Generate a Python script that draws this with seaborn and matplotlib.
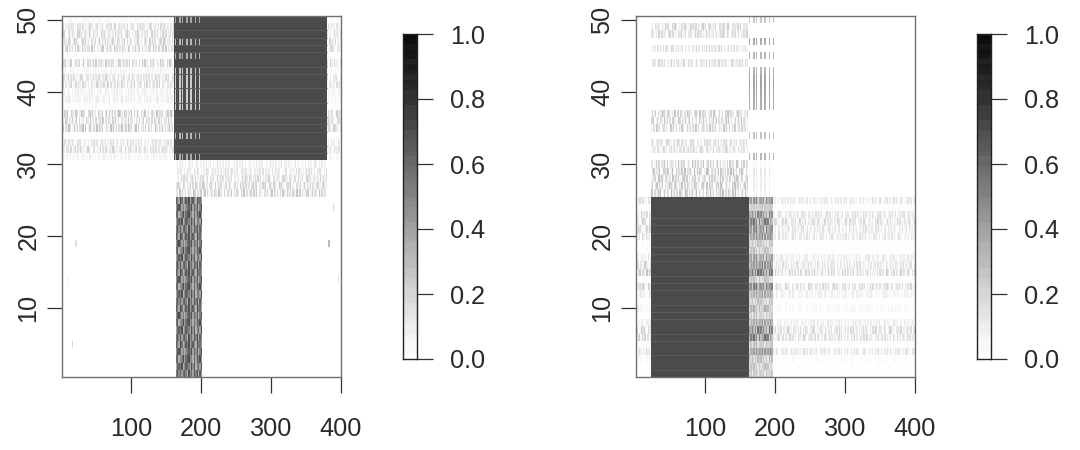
import numpy as np
import matplotlib
matplotlib.use("Agg")
import matplotlib.pyplot as plt
import seaborn as sns
from matplotlib.colors import LinearSegmentedColormap

plt.rcParams["font.family"] = ["Liberation Sans", "DejaVu Sans"]

N_ROWS, N_COLS = 50, 400
X_TICKS = [100, 200, 300, 400]
Y_TICKS = [10, 20, 30, 40, 50]
BAR_TICKS = [0.0, 0.2, 0.4, 0.6, 0.8, 1.0]

# membership intensity per row, listed from row 31 up to row 50
left_upper_levels = [.08, .22, .18, .01, .30, .26, .30, .03, .10, .10,
                     .22, .20, .08, .26, .03, .26, .25, .22, .20, .05]
# left panel, rows 26..30 over the wide block
left_band_levels = [.28, .26, .22, .17, .12]
# right panel, rows 26..50, first cluster
right_upper_levels = [.33, .30, .28, .32, .28, .0, .20, .20, .0, .26,
                      .28, .28, .0, .0, .0, .0, .0, .0, .20, .0,
                      .20, .0, .22, .24, .02]
# right panel, rows 1..25, columns right of the dark block
right_lower_levels = [.01, .02, .04, .20, .03, .26, .26, .15, .0, .07,
                      .02, .13, .26, .02, .30, .22, .16, .02, .02, .20,
                      .22, .26, .22, .03, .20]
# rows in which the narrow column group stands out from its block
streak_rows = [31, 34, 38, 39, 40, 41, 42, 43, 45, 47, 50]
streak_levels = [.30, .24, .32, .34, .36, .38, .36, .30, .30, .34, .22]
stripe_shade = [.34, .30, .22, .20, .20, .20, .22, .24, .34, .30, .36]
narrow_pattern = "01001010010010010010"

# column textures, one digit per two columns
textures = [
    "3150624017305261403725016304172603514027361504273016250437160253041726350142073615042703516240371502",
    "0425137062415073162405317260413570261430725140632175042613705124063172405136270415306271403516270431",
    "5203164702531640275310462713054260371526041375206413270516304275130462071535024617302514063725140362",
    "1640352716042537104625301764205317406235017462053140726351047260315471260435017263504172603415026374",
    "2714053620417351062740315264017352604137250461327015436027105342617043520716354021760342517063240517",
]
dark_textures = [
    "86497358694785396748",
    "69584786395748693857",
    "47869358764958367495",
    "78356947895637486957",
    "58974635786947583694",
]
medium_textures = [
    "36574857693847596837",
    "57386946758395768475",
    "48695738465978364759",
    "65847396857463958476",
]
# seldom-seen isolated cells: row, column, value
left_specks = [(24, 389, .18), (19, 383, .28), (19, 20, .12), (5, 15, .16), (14, 396, .10), (14, 9, .06)]
# rows at whose upper edge a lighter seam runs through the dark block
left_seams = [32, 33, 35, 36, 37, 39, 41, 43, 44, 46, 47, 48, 49]
right_seams = [2, 4, 6, 7, 9, 10, 11, 13, 14, 15, 17, 18, 19, 21, 22, 23]
# shades of the legend strip, bottom to top
bar_levels = [.00, .02, .03, .03, .05, .07, .07, .09, .11, .12, .14, .16, .17, .17, .19, .21,
              .24, .24, .27, .28, .30, .32, .32, .35, .37, .38, .40, .43, .44, .46, .48, .49,
              .52, .53, .55, .57, .58, .60, .63, .62, .66, .68, .68, .71, .72, .76, .75, .79,
              .80, .80, .84, .85, .84, .88, .90, .88, .92, .94, .91, .96, .97, .95, .99, 1.0]


def digits(text):
    return np.repeat(np.array([int(c) for c in text], dtype=float), 2)


def paint(grid, row, first_col, last_col, level, texture_index, scale=8.5):
    """Fill one row span with a level modulated by a column texture."""
    tex = digits(textures[texture_index % len(textures)] * 3)
    offset = (first_col * 3 + row * 11) % 100
    span = tex[offset:offset + last_col - first_col]
    grid[row - 1, first_col:last_col] = np.maximum(grid[row - 1, first_col:last_col], level * span / scale)


left = np.zeros((N_ROWS, N_COLS))
for i, lev in enumerate(left_upper_levels):
    r = 31 + i
    paint(left, r, 0, 160, lev, r)
    paint(left, r, 380, 400, lev * .8, r + 2)
    left[r - 1, 160:380] = .74
for i, lev in enumerate(left_band_levels):
    paint(left, 26 + i, 163, 380, lev, 26 + i)
for r in range(1, 26):
    left[r - 1, 163:201] = .12 + digits(dark_textures[r % 5])[:38] / 15.0
for r, shade in zip(streak_rows, stripe_shade):
    mask = digits(narrow_pattern)[:40]
    left[r - 1, 160:200] = np.where(mask > 0, shade, .74)
for r, c, v in left_specks:
    left[r - 1, c - 1:c + 1] = v

right = np.zeros((N_ROWS, N_COLS))
for i, lev in enumerate(right_upper_levels):
    paint(right, 26 + i, 22, 160, lev, 26 + i)
for i, lev in enumerate(right_lower_levels):
    r = 1 + i
    paint(right, r, 0, 22, lev, r + 1)
    paint(right, r, 197, 400, lev, r, scale=11.0)
    right[r - 1, 22:162] = .74
    base = digits(medium_textures[r % 4])[:35] / 11.0
    right[r - 1, 162:197] = base * (.30 + 1.6 * lev)
for r, lev in zip(streak_rows, streak_levels):
    mask = digits(narrow_pattern)[:40]
    right[r - 1, 160:200] = np.where(mask > 0, lev, 0)
for r, lev in zip([26, 27, 28, 29, 30], [.05, .08, .06, .10, .03]):
    mask = digits(narrow_pattern)[:40]
    right[r - 1, 165:195] = (mask * lev)[5:35]

cmap = LinearSegmentedColormap.from_list("bw", ["#ffffff", "#0c0c0c"], N=256)

fig = plt.figure(figsize=(10.8, 4.5), dpi=100)


def px_axes(x0, x1, y0, y1):
    return fig.add_axes([x0 / 1080, 1 - y1 / 450, (x1 - x0) / 1080, (y1 - y0) / 450])


def draw_panel(grid, seams, seam_span, x0, bar_x0):
    ax = px_axes(x0, x0 + 279, 16, 377)
    sns.heatmap(grid, ax=ax, cmap=cmap, vmin=0, vmax=1, cbar=False,
                xticklabels=False, yticklabels=False, rasterized=True)
    ax.set_xlim(0, N_COLS)
    ax.set_ylim(0, N_ROWS)
    ax.hlines([r - 1 for r in seams], seam_span[0], seam_span[1], color="#5c5c5c", lw=0.7)
    for s in ax.spines.values():
        s.set_visible(True)
        s.set_color("#707070")
        s.set_linewidth(1.0)
    ax.set_xticks([t - .5 for t in X_TICKS])
    ax.set_xticklabels([str(t) for t in X_TICKS], fontsize=18.2, color="#2a2a2a")
    ax.set_yticks([t - .5 for t in Y_TICKS])
    ax.set_yticklabels([str(t) for t in Y_TICKS], fontsize=18.2, color="#2a2a2a",
                       rotation=90, va="center")
    ax.tick_params(axis="x", length=11.5, width=0.9, color="#333333", pad=17)
    ax.tick_params(axis="y", length=11, width=0.9, color="#333333", pad=4.5)

    bar = px_axes(bar_x0, bar_x0 + 14, 34, 359)
    strip = np.array(bar_levels).reshape(-1, 1)
    sns.heatmap(strip, ax=bar, cmap=cmap, vmin=0, vmax=1, cbar=False,
                xticklabels=False, yticklabels=False, rasterized=True)
    bar.set_ylim(0, len(bar_levels))
    for s in bar.spines.values():
        s.set_visible(True)
        s.set_color("#222222")
        s.set_linewidth(1.0)
    bar.yaxis.tick_right()
    bar.set_yticks([v * len(bar_levels) for v in BAR_TICKS])
    bar.set_yticklabels([f"{v:.1f}" for v in BAR_TICKS], fontsize=18.2, color="#2a2a2a", rotation=0)
    bar.tick_params(axis="y", length=11.5, width=0.9, color="#333333", pad=12.5)
    bar.set_xticks([])


draw_panel(left, left_seams, (160, 380), 62, 403)
draw_panel(right, right_seams, (22, 162), 636, 977)

fig.savefig("out.png", dpi=100)
